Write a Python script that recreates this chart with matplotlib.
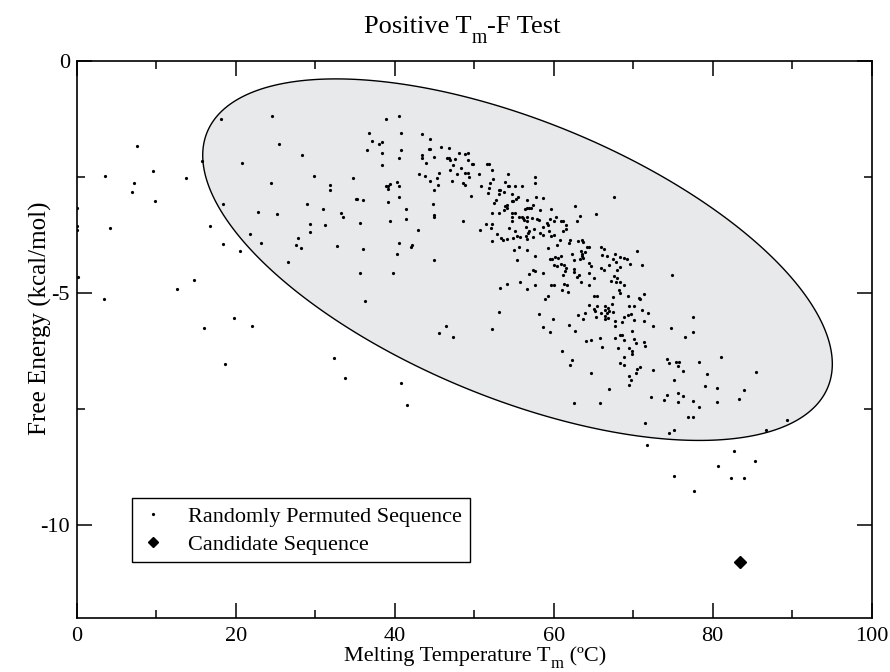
import numpy as np
import matplotlib
matplotlib.use('Agg')
import matplotlib.pyplot as plt
from matplotlib.patches import Polygon
from matplotlib.lines import Line2D

plt.rcParams['font.family'] = ['Liberation Serif', 'DejaVu Serif']
plt.rcParams['axes.unicode_minus'] = False

# randomly permuted sequences: melting temperature (C) and free energy (kcal/mol)
perm_tm = [
    # left of the ellipse
    18.2, 24.6, 7.6, 25.4, 15.8, 20.8, 9.6, 3.6, 13.8, 7.2, 24.4, 7.0, 9.8, 18.4,
    0.0, 22.8, 25.2, 4.2, 16.8, 0.0, 0.0, 21.8, 27.8, 27.6, 23.2, 18.4, 20.6, 26.6,
    0.2, 14.8, 12.6, 3.4, 19.8, 16.0, 22.0, 18.6,
    # lower middle
    36.3, 32.4, 33.8, 40.8, 41.6, 46.4, 45.6, 47.3, 52.3, 53.1, 53.3, 54.1, 55.7, 56.7,
    # upper middle
    38.9, 40.5, 36.8, 40.8, 37.2, 38.0, 38.4, 36.5, 38.4, 40.8, 40.5, 28.4, 38.4, 43.4,
    44.5, 45.8, 46.8, 44.3, 44.5, 43.4, 43.4, 44.9, 44.0, 46.6, 46.8, 47.0, 47.6, 48.1,
    48.9, 49.2, 49.2, 47.3, 49.7, 49.8, 48.4, 46.9, 45.6, 43.0, 43.8, 45.3, 47.9, 48.8,
    49.2, 49.4, 44.5, 45.5, 47.2, 48.6, 48.9, 45.0, 49.6, 44.8, 45.0, 45.0, 48.6, 45.0,
    40.3, 40.5, 39.4, 39.2, 38.9, 39.2, 40.5, 39.2, 41.4, 41.4, 39.4, 42.9, 40.5, 40.3,
    42.2, 42.1, 39.8, 35.6, 36.0, 35.6, 35.1, 35.3, 36.0, 34.8, 32.8, 33.2, 33.5, 31.8,
    31.8, 31.0, 31.2, 29.8, 29.0, 29.4, 29.4, 28.2,
    50.6, 50.8, 51.6, 51.9, 52.3, 54.3, 52.4, 52.0, 51.8, 51.7, 53.1, 53.3, 53.9, 54.2,
    54.4, 55.1, 53.1, 53.8, 54.7, 55.5, 55.2, 54.9, 54.8, 56.7, 52.5, 52.8, 54.1, 54.1,
    53.9, 53.7, 56.4, 56.7, 56.9, 52.3, 53.1, 54.7, 55.1, 54.7, 54.7, 55.6, 56.0, 56.2,
    56.3, 56.6, 56.6, 51.5, 52.2, 52.1, 50.7, 54.4, 55.1, 56.5, 52.9, 53.4, 53.6, 54.1,
    54.9, 55.4, 55.7, 56.5, 56.6, 56.8, 56.9, 52.3, 55.6, 55.0, 56.6, 55.4, 56.9,
    # upper right
    57.6, 57.6, 56.0, 57.8, 58.6, 57.4, 57.1, 58.3, 59.6, 62.7, 63.3, 65.3, 67.6, 62.9,
    57.3, 57.9, 58.1, 59.5, 60.0, 60.3, 60.9, 61.2, 59.1, 59.3, 58.7, 57.5, 58.3, 58.6,
    59.4, 59.7, 60.0, 61.2, 61.6, 61.6, 57.4, 60.8, 60.4, 59.3, 62.0, 61.9, 63.1, 63.6,
    63.7, 64.2, 64.5, 63.4, 63.6, 63.9, 62.3, 65.9, 66.3, 66.1, 66.7, 67.7, 70.5, 57.6,
    59.5, 59.8, 60.2, 60.6, 60.9, 63.5, 63.3, 63.7, 62.5, 64.5, 64.7, 67.4, 68.4, 68.8,
    69.2, 67.0, 67.8, 68.4, 68.0, 69.6, 71.1, 60.9, 61.3, 61.6, 61.2, 61.4, 60.0, 60.4,
    57.6, 57.4, 58.6, 62.5, 62.5, 63.2, 62.9, 64.5, 65.1, 65.9, 66.3, 67.6, 68.0, 67.2,
    67.8, 68.3, 68.8, 74.9, 57.6, 59.6, 60.0, 61.3, 61.7, 63.4, 64.5, 61.1, 61.8, 68.2,
    68.3, 71.3,
    # lower right
    65.1, 65.5, 67.5, 69.3, 70.7, 70.9, 58.9, 59.3, 58.1, 59.9, 58.7, 59.5, 61.9, 62.7,
    63.1, 63.7, 63.9, 64.4, 65.1, 65.2, 65.5, 65.3, 65.9, 66.4, 66.5, 66.7, 66.8, 66.9,
    66.5, 66.4, 66.8, 67.3, 67.5, 68.6, 68.8, 69.3, 67.7, 67.7, 69.5, 70.1, 69.7, 70.1,
    71.1, 71.3, 71.9, 72.5, 69.9, 67.7, 68.3, 68.6, 68.9, 70.1, 70.3, 71.3, 71.5, 65.8,
    66.1, 64.1, 64.7, 68.1, 69.5, 69.9, 69.9, 68.8, 68.3, 68.9, 70.9, 70.5, 70.4, 69.5,
    69.7, 69.5, 61.0, 62.3, 62.1, 64.7, 67.0, 62.5, 65.8, 72.5, 74.7, 76.5, 77.5, 77.5,
    81.1, 85.5, 74.3, 74.5, 75.4, 75.8, 75.7, 76.3, 78.3, 79.3, 75.1, 79.0, 80.5, 83.9,
    83.3, 72.3, 73.9, 74.3, 75.6, 75.7, 76.3, 77.5, 78.3, 80.5, 76.9, 77.5, 71.5, 75.1,
    74.5, 86.7, 89.3, 71.7, 82.7, 85.3, 80.7, 75.1, 82.3, 83.9, 77.7,
]
perm_energy = [
    -1.24, -1.19, -1.83, -1.79, -2.16, -2.19, -2.36, -2.47, -2.51, -2.62, -2.62, -2.82, -3.01, -3.08,
    -3.17, -3.26, -3.30, -3.59, -3.56, -3.55, -3.65, -3.72, -3.81, -3.96, -3.92, -3.95, -4.10, -4.32,
    -4.66, -4.72, -4.91, -5.12, -5.53, -5.75, -5.72, -6.54,
    -5.18, -6.40, -6.83, -6.93, -7.42, -5.72, -5.86, -5.94, -5.78, -5.41, -4.90, -4.81, -4.77, -4.91,
    -1.25, -1.17, -1.55, -1.55, -1.71, -1.78, -1.75, -1.92, -1.98, -1.92, -2.09, -2.02, -2.24, -1.57,
    -1.68, -1.84, -1.88, -1.89, -1.90, -2.02, -2.09, -2.06, -2.20, -2.09, -2.09, -2.13, -2.11, -1.97,
    -2.00, -1.98, -2.13, -2.23, -2.22, -2.22, -2.31, -2.35, -2.41, -2.44, -2.47, -2.52, -2.43, -2.41,
    -2.41, -2.49, -2.58, -2.66, -2.58, -2.62, -2.66, -2.78, -2.91, -3.08, -3.31, -3.35, -3.44, -4.28,
    -2.60, -2.69, -2.64, -2.68, -2.70, -2.75, -2.93, -3.03, -3.18, -3.41, -3.44, -3.64, -3.93, -4.15,
    -3.97, -4.00, -4.57, -4.57, -4.05, -3.48, -2.97, -2.97, -2.99, -2.52, -3.99, -3.28, -3.36, -2.66,
    -2.78, -3.18, -3.53, -2.48, -3.08, -3.51, -3.68, -4.03,
    -2.43, -2.70, -2.22, -2.22, -2.34, -2.44, -2.54, -2.63, -2.74, -2.84, -2.77, -2.77, -2.61, -2.69,
    -2.69, -2.69, -2.86, -2.81, -2.87, -2.93, -2.98, -3.01, -3.01, -3.00, -3.06, -3.00, -3.11, -3.17,
    -3.13, -3.20, -3.18, -3.17, -3.16, -3.28, -3.28, -3.28, -3.27, -3.37, -3.44, -3.35, -3.35, -3.38,
    -3.42, -3.44, -3.36, -3.51, -3.51, -3.59, -3.64, -3.60, -3.66, -3.58, -3.72, -3.81, -3.85, -3.84,
    -3.81, -3.76, -3.79, -3.78, -3.83, -3.71, -3.67, -3.87, -4.00, -4.08, -4.07, -4.28, -4.59,
    -2.49, -2.62, -2.70, -2.92, -2.95, -3.10, -3.17, -3.20, -3.19, -3.13, -3.33, -3.30, -2.93, -3.44,
    -3.38, -3.40, -3.42, -3.40, -3.44, -3.35, -3.44, -3.44, -3.48, -3.53, -3.58, -3.62, -3.71, -3.74,
    -3.67, -3.78, -3.74, -3.66, -3.53, -3.62, -3.80, -3.85, -3.96, -4.03, -3.85, -3.92, -3.87, -3.85,
    -3.89, -4.01, -4.00, -4.10, -4.15, -4.12, -4.15, -4.00, -4.05, -4.17, -4.21, -4.15, -4.10, -4.21,
    -4.26, -4.26, -4.22, -4.25, -4.20, -4.21, -4.26, -4.25, -4.28, -4.35, -4.41, -4.26, -4.22, -4.25,
    -4.26, -4.39, -4.34, -4.44, -4.50, -4.38, -4.39, -4.37, -4.40, -4.46, -4.61, -4.53, -4.40, -4.41,
    -4.53, -4.50, -4.57, -4.48, -4.55, -4.61, -4.66, -4.57, -4.68, -4.46, -4.50, -4.64, -4.68, -4.75,
    -4.77, -4.77, -4.82, -4.61, -4.82, -4.82, -4.82, -4.81, -4.82, -4.77, -4.82, -4.93, -4.97, -4.93,
    -5.00, -5.02,
    -5.06, -5.06, -5.09, -5.06, -5.11, -5.12, -5.13, -5.06, -5.46, -5.55, -5.74, -5.84, -5.70, -5.82,
    -5.47, -5.55, -5.42, -5.26, -5.34, -5.38, -5.27, -5.52, -5.43, -5.27, -5.36, -5.42, -5.32, -5.39,
    -5.50, -5.56, -5.54, -5.24, -5.40, -5.63, -5.52, -5.47, -5.61, -5.72, -5.27, -5.29, -5.45, -5.58,
    -5.37, -5.60, -5.43, -5.71, -5.81, -5.98, -5.91, -5.91, -6.01, -5.99, -6.08, -6.06, -6.15, -5.96,
    -6.17, -6.03, -6.01, -6.19, -6.19, -6.24, -6.31, -6.39, -6.52, -6.55, -6.60, -6.64, -6.72, -6.80,
    -6.87, -6.98, -6.24, -6.44, -6.55, -6.72, -7.07, -7.37, -7.38, -6.66, -5.75, -5.94, -5.51, -5.83,
    -6.39, -6.70, -6.42, -6.52, -6.48, -6.48, -6.58, -6.68, -6.48, -6.75, -6.87, -7.01, -7.05, -7.09,
    -7.29, -7.24, -7.30, -7.21, -7.16, -7.34, -7.23, -7.32, -7.46, -7.36, -7.67, -7.67, -7.80, -7.95,
    -8.03, -7.95, -7.73, -8.28, -8.41, -8.63, -8.74, -8.94, -8.99, -8.98, -9.27,
]

candidate_tm = [83.5]
candidate_energy = [-10.8]

# confidence ellipse: centre, half widths along the axes, correlation
ell_center = (55.45, -4.28)
ell_half = (39.6, 3.90)
ell_rho = -0.577

x_ticks = [0, 20, 40, 60, 80, 100]
y_ticks = [0, -5, -10]

W, H = 890, 672
fig = plt.figure(figsize=(W / 100, H / 100), dpi=100)
ax = fig.add_axes([0.0862, 0.0811, 0.8932, 0.8277])


def sub_text(parts, cx, base_y, size):
    # text with a dropped subscript, centred on cx (pixels), baseline at base_y (pixels from top)
    r = fig.canvas.get_renderer()
    items = []
    for s, drop, scale in parts:
        t = fig.text(0, 0, s, fontsize=size * scale, ha='left', va='baseline')
        items.append((t, drop, t.get_window_extent(r).width))
    x = cx - sum(w for _, _, w in items) / 2
    for t, drop, w in items:
        t.set_position((x / W, (H - base_y - drop) / H))
        x += w


t = np.linspace(0, 2 * np.pi, 400)
ex = ell_center[0] + ell_half[0] * np.cos(t)
ey = ell_center[1] + ell_half[1] * (ell_rho * np.cos(t) + np.sqrt(1 - ell_rho**2) * np.sin(t))
ax.add_patch(Polygon(np.column_stack([ex, ey]), closed=True, facecolor='#e8e9eb',
                     edgecolor='black', linewidth=1.0, zorder=1))

ax.plot(perm_tm, perm_energy, linestyle='none', marker='o', markersize=2.3,
        color='black', markeredgewidth=0, zorder=3)
ax.plot(candidate_tm, candidate_energy, linestyle='none', marker='D', markersize=6.5,
        color='black', zorder=3)

ax.set_xlim(0, 100)
ax.set_ylim(-12, 0)
ax.set_xticks(x_ticks)
ax.set_yticks(y_ticks)
ax.set_xticks(np.arange(10, 100, 20), minor=True)
ax.set_yticks([-2.5, -7.5], minor=True)
ax.tick_params(which='both', direction='in', top=True, right=True, labelsize=16, width=1.1)
ax.tick_params(which='major', length=11)
ax.tick_params(which='minor', length=5.5)
ax.tick_params(axis='x', pad=7)
ax.tick_params(axis='y', pad=5)
for sp in ax.spines.values():
    sp.set_linewidth(1.2)

sub_text([('Positive T', 0, 1.0), ('m', 10, 0.75), ('-F Test', 0, 1.0)], 462, 33, 19)
sub_text([('Melting Temperature T', 0, 1.0), ('m', 7, 0.75), (' (ºC)', 0, 1.0)], 475, 661.5, 16)
ax.set_ylabel('Free Energy (kcal/mol)', fontsize=18)
ax.yaxis.set_label_coords(-0.0305, 0.5376)

handles = [
    Line2D([], [], linestyle='none', marker='o', markersize=2.3, color='black', markeredgewidth=0),
    Line2D([], [], linestyle='none', marker='D', markersize=5.5, color='black'),
]
leg = ax.legend(handles, ['Randomly Permuted Sequence', 'Candidate Sequence'],
                loc='upper left', bbox_to_anchor=(0.070, 0.214), borderaxespad=0,
                fontsize=16, fancybox=False, edgecolor='black', framealpha=1,
                handlelength=1.2, handletextpad=0.95, borderpad=0.35, labelspacing=0.33)
leg.get_frame().set_linewidth(1.0)

fig.savefig('out.png', dpi=100)
